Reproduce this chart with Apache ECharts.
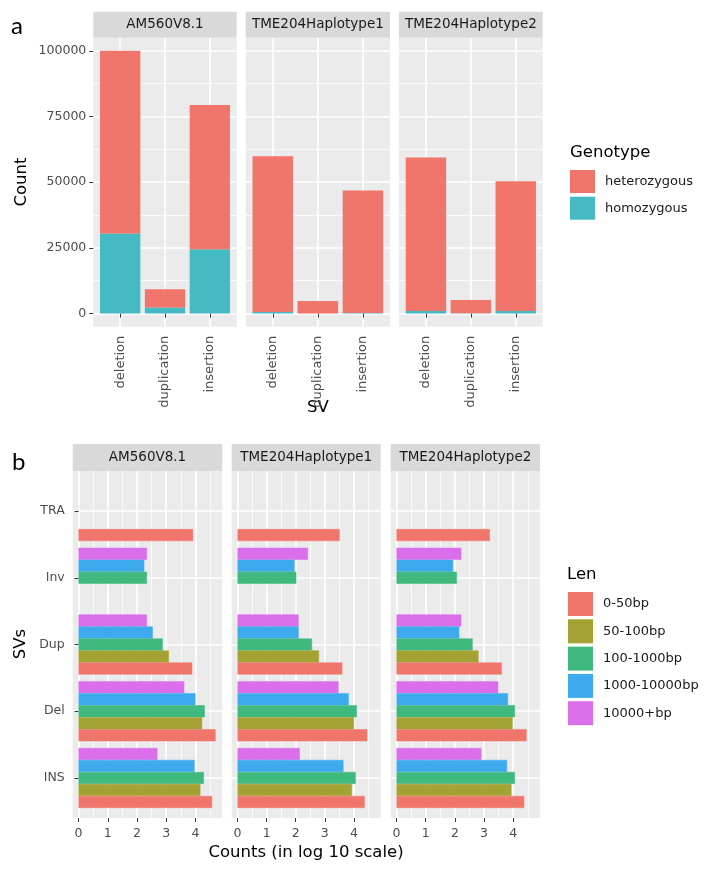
<!DOCTYPE html>
<html><head><meta charset="utf-8">
<script src="https://cdn.jsdelivr.net/npm/echarts@6/dist/echarts.min.js"></script>
<style>html,body{margin:0;padding:0;background:#fff}#c{width:709px;height:872px}</style>
</head><body><div id="c"></div>
<script>
// ---------------- DATA ----------------
const facets = ['AM560V8.1', 'TME204Haplotype1', 'TME204Haplotype2'];

// Panel a
const svTypes = ['deletion', 'duplication', 'insertion'];
const genotypes = ['heterozygous', 'homozygous'];
const heteroAM560 = [69500, 7000, 54900];
const homoAM560   = [30500, 2300, 24500];
const heteroHap1  = [59300, 4800, 46600];
const homoHap1    = [600, 0, 200];
const heteroHap2  = [58400, 5100, 49400];
const homoHap2    = [1000, 100, 1000];
const countTicks  = [0, 25000, 50000, 75000, 100000];

// Panel b (log10 counts, order of svClasses)
const svClasses = ['INS', 'Del', 'Dup', 'Inv', 'TRA'];
const lenBins = ['0-50bp', '50-100bp', '100-1000bp', '1000-10000bp', '10000+bp'];
const am560_0_50      = [4.57, 4.69, 3.89, null, 3.92];
const am560_50_100    = [4.17, 4.23, 3.09, null, null];
const am560_100_1000  = [4.29, 4.32, 2.88, 2.34, null];
const am560_1k_10k    = [3.97, 4.00, 2.54, 2.25, null];
const am560_10kplus   = [2.70, 3.62, 2.34, 2.34, null];
const hap1_0_50       = [4.37, 4.46, 3.60, null, 3.51];
const hap1_50_100     = [3.93, 4.00, 2.80, null, null];
const hap1_100_1000   = [4.06, 4.10, 2.56, 2.02, null];
const hap1_1k_10k     = [3.64, 3.82, 2.10, 1.96, null];
const hap1_10kplus    = [2.14, 3.47, 2.10, 2.42, null];
const hap2_0_50       = [4.38, 4.46, 3.61, null, 3.20];
const hap2_50_100     = [3.94, 3.98, 2.81, null, null];
const hap2_100_1000   = [4.06, 4.06, 2.61, 2.07, null];
const hap2_1k_10k     = [3.79, 3.82, 2.15, 1.94, null];
const hap2_10kplus    = [2.91, 3.49, 2.22, 2.22, null];
const logTicks = [0, 1, 2, 3, 4];

// ---------------- STYLE / LAYOUT ----------------
const genoColors = { heterozygous: '#F0766C', homozygous: '#46BAC2' };
const lenColors = ['#F0766C', '#A3A232', '#40B97F', '#3DAAEE', '#DA6EEB'];
const BG = '#EBEBEB', STRIP = '#D9D9D9', TXT = '#4D4D4D';
const FONT = 'DejaVu Sans';

const A_PANELS = [[93.3, 236.7], [245.7, 390], [399, 542.7]];
const A_TOP = 37.7, A_BOTTOM = 326.7, A_STRIP_TOP = 11.7;
const B_PANELS = [[72.7, 222.3], [231.7, 380.7], [390.7, 540]];
const B_TOP = 471, B_BOTTOM = 818, B_STRIP_TOP = 444;

const A_XMIN = 0.4, A_XMAX = 3.6, A_YMIN = -5000, A_YMAX = 105000;
const B_XMIN = -0.2, B_XMAX = 4.92, B_YMIN = 0.4, B_YMAX = 5.6;

const heteroData = [heteroAM560, heteroHap1, heteroHap2];
const homoData = [homoAM560, homoHap1, homoHap2];
const lenData = [
  [am560_0_50, am560_50_100, am560_100_1000, am560_1k_10k, am560_10kplus],
  [hap1_0_50, hap1_50_100, hap1_100_1000, hap1_1k_10k, hap1_10kplus],
  [hap2_0_50, hap2_50_100, hap2_100_1000, hap2_1k_10k, hap2_10kplus]
];

const mids = arr => arr.slice(1).map((v, i) => (v + arr[i]) / 2);
const majorLine = { show: true, lineStyle: { color: '#FFFFFF', width: 1.6 } };
const minorLine = { show: true, lineStyle: { color: '#FFFFFF', width: 0.8 } };

const grid = [], xAxis = [], yAxis = [], series = [], graphic = [];

function addGrid(l, r, t, b, bg) {
  grid.push({ left: l, top: t, width: r - l, height: b - t, show: bg, backgroundColor: bg ? BG : 'transparent',
    borderWidth: 0, containLabel: false, outerBoundsMode: 'none' });
  return grid.length - 1;
}
function hiddenValue(gi, min, max, pos) {
  return { type: 'value', gridIndex: gi, min, max, position: pos, show: false,
    axisLine: { show: false }, axisTick: { show: false }, axisLabel: { show: false }, splitLine: { show: false } };
}

// ---------- Panel a ----------
A_PANELS.forEach(([l, r], i) => {
  const bg = addGrid(l, r, A_TOP, A_BOTTOM, true);
  xAxis.push({ type: 'value', gridIndex: bg, min: A_XMIN, max: A_XMAX, position: 'bottom',
    axisLine: { show: false }, axisTick: { show: false, customValues: [1, 2, 3] },
    axisLabel: { show: false, customValues: [1, 2, 3] }, splitLine: majorLine });
  yAxis.push({ type: 'value', gridIndex: bg, min: A_YMIN, max: A_YMAX, position: 'left',
    axisLine: { show: false },
    axisTick: { show: i === 0, customValues: countTicks, length: 4, lineStyle: { color: '#333', width: 1 } },
    axisLabel: { show: i === 0, customValues: countTicks, margin: 7, color: TXT, fontSize: 12.5, fontFamily: FONT,
      formatter: v => String(v) },
    splitLine: majorLine });
  yAxis.push({ type: 'value', gridIndex: bg, min: A_YMIN, max: A_YMAX, position: 'right',
    axisLine: { show: false }, axisTick: { show: false, customValues: mids(countTicks) },
    axisLabel: { show: false, customValues: mids(countTicks) }, splitLine: minorLine });
  // bar grid (category range inset by ggplot's 0.6 expansion)
  const unit = (r - l) / (A_XMAX - A_XMIN);
  const inset = (0.5 - A_XMIN) * unit;
  const bgi = addGrid(l + inset, r - inset, A_TOP, A_BOTTOM, false);
  const bx = xAxis.length;
  xAxis.push({ type: 'category', gridIndex: bgi, data: svTypes, position: 'bottom',
    axisLine: { show: false },
    axisTick: { show: true, alignWithLabel: true, length: 4, lineStyle: { color: '#333', width: 1 } },
    axisLabel: { rotate: 90, margin: 9, color: TXT, fontSize: 13, fontFamily: FONT },
    splitLine: { show: false } });
  const by = yAxis.length;
  yAxis.push(hiddenValue(bgi, A_YMIN, A_YMAX, 'left'));
  [['homozygous', homoData[i]], ['heterozygous', heteroData[i]]].forEach(([name, d]) => {
    series.push({ type: 'bar', name, xAxisIndex: bx, yAxisIndex: by, stack: 'geno' + i, data: d,
      barCategoryGap: '10%', itemStyle: { color: genoColors[name] }, emphasis: { disabled: true } });
  });
  graphic.push({ type: 'rect', shape: { x: l, y: A_STRIP_TOP, width: r - l, height: A_TOP - A_STRIP_TOP },
    style: { fill: STRIP } });
  graphic.push({ type: 'text', x: (l + r) / 2, y: (A_STRIP_TOP + A_TOP) / 2,
    style: { text: facets[i], align: 'center', verticalAlign: 'middle', fontSize: 13.5, fontFamily: FONT, fill: '#1A1A1A' } });
});

// ---------- Panel b ----------
B_PANELS.forEach(([l, r], i) => {
  const bg = addGrid(l, r, B_TOP, B_BOTTOM, true);
  xAxis.push({ type: 'value', gridIndex: bg, min: B_XMIN, max: B_XMAX, position: 'bottom',
    axisLine: { show: false },
    axisTick: { show: true, customValues: logTicks, length: 4, lineStyle: { color: '#333', width: 1 } },
    axisLabel: { show: true, customValues: logTicks, margin: 9, color: TXT, fontSize: 12.5, fontFamily: FONT },
    splitLine: majorLine });
  xAxis.push({ type: 'value', gridIndex: bg, min: B_XMIN, max: B_XMAX, position: 'top',
    axisLine: { show: false }, axisTick: { show: false, customValues: mids(logTicks).concat([4.5]) },
    axisLabel: { show: false, customValues: mids(logTicks).concat([4.5]) }, splitLine: minorLine });
  yAxis.push({ type: 'value', gridIndex: bg, min: B_YMIN, max: B_YMAX, position: 'left',
    axisLine: { show: false }, axisTick: { show: false, customValues: [1, 2, 3, 4, 5] },
    axisLabel: { show: false, customValues: [1, 2, 3, 4, 5] }, splitLine: majorLine });
  const unit = (B_BOTTOM - B_TOP) / (B_YMAX - B_YMIN);
  const inset = (0.5 - B_YMIN) * unit;
  const bgi = addGrid(l, r, B_TOP + inset, B_BOTTOM - inset, false);
  const bx = xAxis.length;
  xAxis.push(hiddenValue(bgi, B_XMIN, B_XMAX, 'bottom'));
  const by = yAxis.length;
  yAxis.push({ type: 'category', gridIndex: bgi, data: svClasses, position: 'left',
    axisLine: { show: false },
    axisTick: { show: i === 0, alignWithLabel: true, length: 4, lineStyle: { color: '#333', width: 1 } },
    axisLabel: { show: i === 0, margin: 8, color: TXT, fontSize: 12.5, fontFamily: FONT },
    splitLine: { show: false } });
  // ECharts places horizontal bar slots top-down, so add the longest-length bin first
  for (let k = lenBins.length - 1; k >= 0; k--) {
    series.push({ type: 'bar', name: lenBins[k], xAxisIndex: bx, yAxisIndex: by, data: lenData[i][k],
      barGap: '0%', barCategoryGap: '10%',
      itemStyle: { color: lenColors[k], borderColor: lenColors[k], borderWidth: 0.5 },
      emphasis: { disabled: true } });
  }
  graphic.push({ type: 'rect', shape: { x: l, y: B_STRIP_TOP, width: r - l, height: B_TOP - B_STRIP_TOP },
    style: { fill: STRIP } });
  graphic.push({ type: 'text', x: (l + r) / 2, y: (B_STRIP_TOP + B_TOP) / 2,
    style: { text: facets[i], align: 'center', verticalAlign: 'middle', fontSize: 13.5, fontFamily: FONT, fill: '#1A1A1A' } });
});

// titles & labels
const t = (text, x, y, size, opts = {}) => ({ type: 'text', x, y, rotation: opts.rot || 0,
  style: { text, align: opts.align || 'center', verticalAlign: 'middle', fontSize: size,
    fontFamily: opts.family || FONT, fill: opts.fill || '#000', fontWeight: opts.weight || 'normal' } });
graphic.push(t('a', 11, 26, 24, { align: 'left', family: 'Lato' }));
graphic.push(t('b', 12, 462, 24, { align: 'left', family: 'Lato' }));
graphic.push(t('Count', 22, 182, 16.5, { rot: Math.PI / 2 }));
graphic.push(t('SV', 318, 408, 16.5));
graphic.push(t('SVs', 21, 644, 16.5, { rot: Math.PI / 2 }));
graphic.push(t('Counts (in log 10 scale)', 306, 853, 16.5));
graphic.push(t('Genotype', 570, 153, 16.5, { align: 'left' }));
graphic.push(t('Len', 567, 575, 16.5, { align: 'left' }));

const legendText = { fontSize: 13, fontFamily: FONT, color: '#1A1A1A', padding: [0, 0, 0, 5] };
const option = {
  animation: false,
  backgroundColor: '#FFFFFF',
  grid, xAxis, yAxis, series, graphic,
  legend: [
    { data: genotypes, orient: 'vertical', left: 570, top: 170, itemWidth: 25, itemHeight: 23, itemGap: 3.7,
      icon: 'rect', selectedMode: false, textStyle: legendText, padding: 0, itemStyle: { borderWidth: 0 } },
    { data: lenBins, orient: 'vertical', left: 568, top: 592, itemWidth: 25, itemHeight: 24, itemGap: 3.3,
      icon: 'rect', selectedMode: false, textStyle: legendText, padding: 0, itemStyle: { borderWidth: 0 } }
  ]
};
const chart = echarts.init(document.getElementById('c'), null, { renderer: 'canvas' });
chart.setOption(option);
</script>
</body></html>
